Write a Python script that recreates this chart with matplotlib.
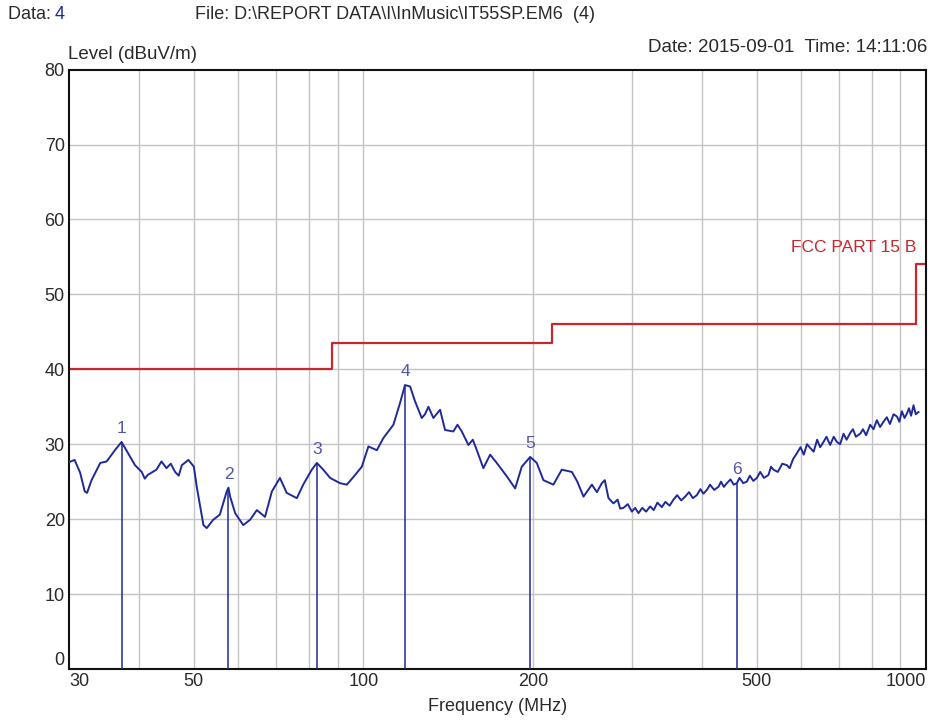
import matplotlib.pyplot as plt
import matplotlib.ticker as ticker

plt.rcParams["font.family"] = ["Liberation Sans", "DejaVu Sans"]

freq = [30.0, 30.7, 31.4, 32.0, 32.3, 32.9, 34.1, 35.0, 36.2, 37.2,
        38.2, 39.3, 40.4, 40.9, 41.4, 42.9, 43.8, 44.7, 45.5, 46.3,
        47.0, 47.6, 48.9, 50.0, 50.6, 51.3, 52.0, 52.7, 54.1, 55.6,
        57.2, 57.6, 58.0, 59.2, 61.2, 62.9, 64.7, 66.9, 68.8, 71.1,
        73.1, 76.2, 78.2, 81.0, 82.7, 84.9, 87.3, 90.9, 93.5, 96.7,
        99.4, 102.1, 105.7, 108.5, 113.1, 116.2, 118.6, 121.1, 123.6, 127.0,
        128.7, 130.5, 133.2, 136.9, 139.7, 144.5, 147.0, 149.6, 153.7, 156.5,
        159.1, 163.4, 168.0, 172.6, 179.9, 186.1, 191.2, 197.9, 203.3, 208.9,
        217.6, 225.2, 234.7, 240.0, 246.1, 254.7, 260.0, 265.3, 268.5, 272.6,
        278.2, 283.0, 286.0, 289.8, 295.0, 300.0, 304.0, 308.2, 313.0, 318.0,
        323.3, 328.0, 333.0, 339.1, 344.0, 350.0, 355.6, 361.0, 367.0, 373.0,
        379.0, 385.0, 391.3, 397.0, 402.0, 407.7, 413.0, 420.0, 427.4, 432.0,
        437.0, 442.4, 449.0, 455.0, 460.9, 466.0, 473.0, 480.1, 486.0, 493.0,
        500.2, 507.0, 515.0, 524.5, 530.0, 535.3, 545.0, 555.0, 565.6, 572.0,
        580.0, 589.2, 598.0, 606.0, 614.0, 622.1, 631.0, 640.0, 648.0, 656.9,
        665.0, 675.0, 685.0, 693.9, 703.0, 713.0, 722.0, 732.7, 741.0, 750.0,
        763.3, 772.0, 782.0, 795.1, 806.0, 817.0, 828.0, 839.7, 851.0, 862.0,
        875.0, 887.0, 896.0, 905.0, 915.0, 924.1, 932.0, 940.0, 949.4, 958.0, 969.0]
level = [27.6, 27.9, 26.2, 23.7, 23.5, 25.2, 27.5, 27.7, 29.2, 30.3,
         28.8, 27.2, 26.3, 25.4, 25.9, 26.6, 27.7, 26.8, 27.4, 26.3,
         25.8, 27.2, 27.9, 27.0, 24.3, 21.7, 19.2, 18.8, 19.9, 20.6,
         23.7, 24.2, 23.0, 20.8, 19.2, 19.9, 21.2, 20.3, 23.7, 25.5,
         23.5, 22.8, 24.6, 26.6, 27.5, 26.6, 25.5, 24.8, 24.6, 25.9,
         27.0, 29.7, 29.2, 30.8, 32.6, 35.5, 37.9, 37.7, 35.7, 33.5,
         34.0, 35.0, 33.5, 34.6, 31.9, 31.7, 32.6, 31.7, 29.9, 30.6,
         29.2, 26.8, 28.6, 27.5, 25.7, 24.1, 27.0, 28.3, 27.5, 25.2,
         24.6, 26.6, 26.3, 25.0, 23.0, 24.6, 23.6, 24.8, 25.2, 22.8,
         22.1, 22.6, 21.4, 21.5, 22.0, 21.0, 21.5, 20.8, 21.5, 21.0,
         21.7, 21.2, 22.2, 21.6, 22.3, 21.8, 22.6, 23.2, 22.5, 23.0,
         23.6, 22.8, 23.2, 24.0, 23.4, 23.9, 24.6, 23.9, 24.3, 25.0,
         24.3, 24.8, 25.3, 24.6, 24.8, 25.5, 24.8, 25.0, 25.8, 25.1,
         25.5, 26.3, 25.5, 25.9, 27.0, 26.6, 26.3, 27.4, 27.2, 26.8,
         28.0, 28.8, 29.6, 28.6, 30.0, 29.5, 29.0, 30.6, 29.6, 30.3,
         31.0, 29.9, 31.0, 30.3, 30.0, 31.4, 30.6, 31.5, 32.0, 31.0,
         31.4, 32.0, 31.2, 32.6, 32.0, 33.2, 32.3, 33.0, 33.6, 32.7,
         34.0, 33.7, 33.0, 34.4, 33.5, 34.1, 34.8, 33.8, 35.2, 34.0, 34.3]

# FCC part 15 B limit
limit_freq = [30, 88, 88, 216, 216, 960, 960, 1000]
limit_level = [40, 40, 43.5, 43.5, 46, 46, 54, 54]

# markers
mark_freq = [37.2, 57.6, 82.7, 118.6, 197.9, 460.9]
mark_level = [30.3, 24.2, 27.5, 37.9, 28.3, 24.8]
mark_names = ["1", "2", "3", "4", "5", "6"]

x_grid = [40, 50, 60, 70, 80, 90, 100, 200, 300, 400, 500, 600, 700, 800, 900]
x_ticks = [30, 50, 100, 200, 500, 1000]
y_ticks = [0, 10, 20, 30, 40, 50, 60, 70, 80]

blue = "#1f2a9a"
red = "#c62830"
text_col = "#2a2a2a"

fig = plt.figure(figsize=(9.41, 7.22), dpi=100)
ax = fig.add_axes([0.0733, 0.0735, 0.911, 0.830])

ax.set_xscale("log")
ax.set_xlim(30, 1000)
ax.set_ylim(0, 80)

for g in x_grid:
    ax.axvline(g, color="#c4c4c4", lw=1.0, zorder=0)
for g in y_ticks[1:-1]:
    ax.axhline(g, color="#c4c4c4", lw=1.0, zorder=0)

ax.plot(limit_freq, limit_level, color=red, lw=1.6, zorder=2)
ax.plot(freq, level, color=blue, lw=1.4, zorder=3)

for f, l, n in zip(mark_freq, mark_level, mark_names):
    ax.vlines(f, 0, l, color=blue, lw=1.1, zorder=3)
    ax.text(f, l + 0.8, n, color="#5058a8", fontsize=12.5, ha="center", va="bottom")

ax.text(962, 55.3, "FCC PART 15 B", color=red, fontsize=12.5, ha="right", va="bottom")

ax.xaxis.set_major_locator(ticker.FixedLocator(x_ticks))
ax.xaxis.set_minor_locator(ticker.NullLocator())
ax.xaxis.set_major_formatter(ticker.FixedFormatter([str(t) for t in x_ticks]))
ax.set_yticks(y_ticks)
ax.tick_params(length=0, labelsize=13, labelcolor=text_col)
ax.tick_params(axis="x", pad=3)
ax.tick_params(axis="y", pad=3)
xl = ax.get_xticklabels()
xl[0].set_ha("left")
xl[-1].set_ha("right")
ax.get_yticklabels()[0].set_va("bottom")

for s in ax.spines.values():
    s.set_linewidth(1.5)
    s.set_color("#111111")

ax.set_xlabel("Frequency (MHz)", fontsize=13, color=text_col, labelpad=6)

# header texts
fig.text(0.008, 0.980, "Data: ", fontsize=13, color=text_col, va="center")
fig.text(0.058, 0.980, "4", fontsize=13, color=blue, va="center")
fig.text(0.207, 0.980, "File: D:\\REPORT DATA\\I\\InMusic\\IT55SP.EM6  (4)", fontsize=13,
         color=text_col, va="center")
fig.text(0.985, 0.934, "Date: 2015-09-01  Time: 14:11:06", fontsize=13.5, color=text_col,
         ha="right", va="center")
fig.text(0.072, 0.925, "Level (dBuV/m)", fontsize=13.5, color=text_col, va="center")

fig.savefig("out.png", dpi=100)
